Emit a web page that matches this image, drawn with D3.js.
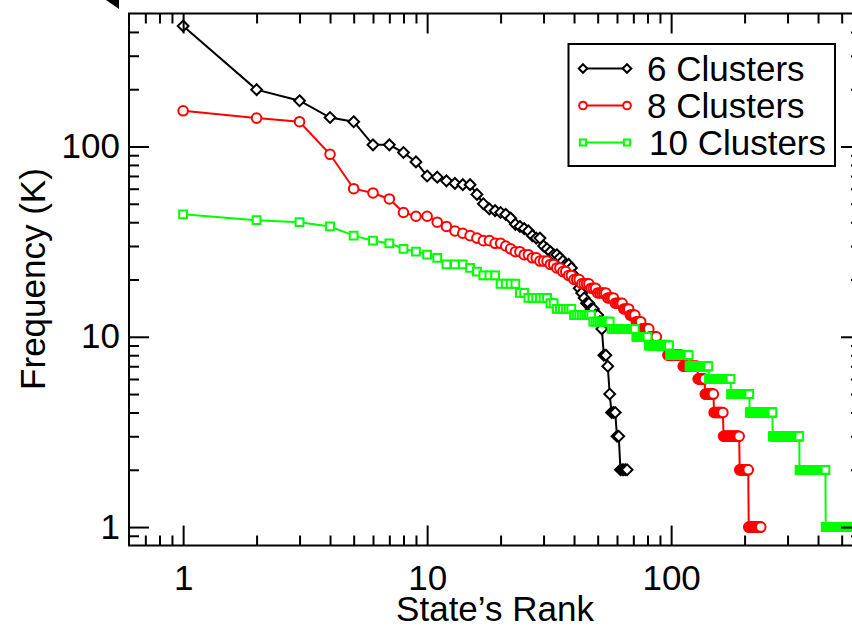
<!DOCTYPE html>
<html>
<head>
<meta charset="utf-8">
<script src="https://cdn.jsdelivr.net/npm/d3@7"></script>
<style>
  body { margin: 0; background: #fff; }
  text { font-family: "Liberation Sans", Arial, Helvetica, sans-serif; }
</style>
</head>
<body>
<svg id="chart" width="852" height="627"></svg>
<script>
// Frequency (K) of each state, in rank order (rank = index + 1)
var freq6 = [430, 199, 174, 142, 135, 102, 102, 93, 83, 70,
             69, 66, 64, 63, 63, 56, 50, 47, 46, 45,
             44, 42, 39, 38, 37, 36, 34, 33, 33, 30,
             29, 28, 27, 27, 26, 25, 24, 24, 23, 21,
             20, 18, 17, 16, 15, 15, 14, 14, 13, 13,
             12, 11, 8, 8, 7, 5, 4, 4, 4, 3,
             3, 2, 2, 2, 2, 2];

var freq8Head = [154, 141, 135, 91, 60, 57, 53, 45, 43, 43,
                 40, 38, 36, 35, 34, 33, 32, 32, 31, 31,
                 30, 29, 28, 28, 27, 27, 26, 26, 25, 25,
                 25, 24, 24, 23, 23, 22, 22, 21, 21];
// tail as [value, number of ranks with that value]
var freq8Tail = [[20, 3], [19, 4], [18, 3], [17, 5], [16, 4], [15, 5], [14, 4],
                 [13, 4], [12, 4], [11, 6], [10, 6], [9, 9], [8, 15], [7, 17],
                 [6, 9], [5, 12], [4, 14], [3, 27], [2, 17], [1, 26]];

var freq10Head = [44, 41, 40, 38, 34, 32, 31, 29, 28, 27,
                  26, 24, 24, 24, 23, 22, 21, 21, 21, 19,
                  19, 19, 19, 17, 17];
var freq10Tail = [[16, 6], [15, 2], [14, 6], [13, 8], [12, 9], [11, 15], [10, 9],
                  [9, 18], [8, 20], [7, 24], [6, 33], [5, 34], [4, 51], [3, 75],
                  [2, 94], [1, 171]];

var seriesNames = ['6 Clusters', '8 Clusters', '10 Clusters'];
var seriesColors = ['#000000', '#ff0000', '#00ff00'];
var seriesShapes = ['diamond', 'circle', 'square'];

var xMajor = [1, 10, 100];
var xMinor = [0.7, 0.8, 0.9, 2, 3, 4, 5, 6, 7, 8, 9, 20, 30, 40, 50, 60, 70, 80, 90, 200, 300, 400, 500];
var yMajor = [1, 10, 100];
var yMinor = [0.9, 2, 3, 4, 5, 6, 7, 8, 9, 20, 30, 40, 50, 60, 70, 80, 90, 200, 300, 400];

function expand(head, runs) {
  var out = head.slice();
  runs.forEach(function(r) {
    for (var i = 0; i < r[1]; i++) out.push(r[0]);
  });
  return out;
}

function toPoints(freqs) {
  return freqs.map(function(v, i) { return {rank: i + 1, freq: v}; });
}

function markerPath(shape, s) {
  if (shape == 'diamond') return 'M0,' + (-s) + 'L' + s + ',0L0,' + s + 'L' + (-s) + ',0Z';
  if (shape == 'square') return 'M' + (-s) + ',' + (-s) + 'H' + s + 'V' + s + 'H' + (-s) + 'Z';
  return 'M' + s + ',0A' + s + ',' + s + ' 0 1,1 ' + (-s) + ',0A' + s + ',' + s + ' 0 1,1 ' + s + ',0Z';
}
var markerSize = {diamond: 5.4, circle: 4.8, square: 3.9};

var plotL = 129, plotT = 13.5, plotR = 861, plotB = 545.5;
var x = d3.scaleLog().domain([0.6, 600]).range([plotL, plotR]);
var y = d3.scaleLog().domain([0.8, 500]).range([plotB, plotT]);

var svg = d3.select('#chart');
var fontSize = 35;

// odd little mark in the top-left corner
svg.append('polygon')
  .attr('points', '106,0 119,0 119,9')
  .attr('fill', '#000');

svg.append('clipPath').attr('id', 'plotclip')
  .append('rect').attr('x', plotL).attr('y', plotT)
  .attr('width', plotR - plotL).attr('height', plotB - plotT);

var allSeries = [
  toPoints(freq6),
  toPoints(expand(freq8Head, freq8Tail)),
  toPoints(expand(freq10Head, freq10Tail))
];

var line = d3.line().x(d => x(d.rank)).y(d => y(d.freq));
var plot = svg.append('g').attr('clip-path', 'url(#plotclip)');

allSeries.forEach(function(pts, k) {
  var g = plot.append('g');
  g.append('path').datum(pts)
    .attr('d', line)
    .attr('fill', 'none')
    .attr('stroke', seriesColors[k]).attr('stroke-width', 2);
  g.selectAll('path.mk').data(pts).enter().append('path')
    .attr('class', 'mk')
    .attr('d', markerPath(seriesShapes[k], markerSize[seriesShapes[k]]))
    .attr('transform', d => 'translate(' + x(d.rank) + ',' + y(d.freq) + ')')
    .attr('fill', '#fff')
    .attr('stroke', seriesColors[k]).attr('stroke-width', 2);
});

// axes, ticks all pointing inward
function styleAxis(g) {
  g.select('.domain').remove();
  g.selectAll('line').attr('stroke', '#000').attr('stroke-width', 2);
  g.attr('font-size', fontSize).attr('font-family', '"Liberation Sans", Arial, sans-serif');
  g.selectAll('text').attr('fill', '#000');
}

svg.append('g').attr('transform', 'translate(0,' + plotB + ')')
  .call(d3.axisBottom(x).tickValues(xMajor).tickSize(-20).tickSizeOuter(0).tickPadding(20).tickFormat(d3.format('d')))
  .call(styleAxis);
svg.append('g').attr('transform', 'translate(0,' + plotB + ')')
  .call(d3.axisBottom(x).tickValues(xMinor).tickSize(-10).tickSizeOuter(0).tickFormat(''))
  .call(styleAxis);
svg.append('g').attr('transform', 'translate(0,' + plotT + ')')
  .call(d3.axisTop(x).tickValues(xMajor).tickSize(-20).tickSizeOuter(0).tickFormat(''))
  .call(styleAxis);
svg.append('g').attr('transform', 'translate(0,' + plotT + ')')
  .call(d3.axisTop(x).tickValues(xMinor).tickSize(-10).tickSizeOuter(0).tickFormat(''))
  .call(styleAxis);

svg.append('g').attr('transform', 'translate(' + plotL + ',0)')
  .call(d3.axisLeft(y).tickValues(yMajor).tickSize(-20).tickSizeOuter(0).tickPadding(9).tickFormat(d3.format('d')))
  .call(styleAxis);
svg.append('g').attr('transform', 'translate(' + plotL + ',0)')
  .call(d3.axisLeft(y).tickValues(yMinor).tickSize(-10).tickSizeOuter(0).tickFormat(''))
  .call(styleAxis);
svg.append('g').attr('transform', 'translate(' + plotR + ',0)')
  .call(d3.axisRight(y).tickValues(yMajor).tickSize(-20).tickSizeOuter(0).tickFormat(''))
  .call(styleAxis);
svg.append('g').attr('transform', 'translate(' + plotR + ',0)')
  .call(d3.axisRight(y).tickValues(yMinor).tickSize(-10).tickSizeOuter(0).tickFormat(''))
  .call(styleAxis);

svg.append('rect')
  .attr('x', plotL).attr('y', plotT)
  .attr('width', plotR - plotL).attr('height', plotB - plotT)
  .attr('fill', 'none').attr('stroke', '#000').attr('stroke-width', 2);

// axis titles
svg.append('text')
  .attr('x', 495).attr('y', 621)
  .attr('text-anchor', 'middle').attr('font-size', fontSize)
  .text('State\u2019s Rank');
svg.append('text')
  .attr('transform', 'translate(45,279) rotate(-90)')
  .attr('text-anchor', 'middle').attr('font-size', fontSize)
  .text('Frequency (K)');

// legend
var legend = svg.append('g');
legend.append('rect')
  .attr('x', 568.5).attr('y', 44).attr('width', 266.5).attr('height', 122)
  .attr('fill', '#fff').attr('stroke', '#000').attr('stroke-width', 2);
seriesNames.forEach(function(name, k) {
  var ly = 68.5 + k * 37;
  var row = legend.append('g');
  row.append('line')
    .attr('x1', 583).attr('x2', 627).attr('y1', ly).attr('y2', ly)
    .attr('stroke', seriesColors[k]).attr('stroke-width', 2);
  [583, 627].forEach(function(lx) {
    row.append('path')
      .attr('d', markerPath(seriesShapes[k], markerSize[seriesShapes[k]] * 0.8))
      .attr('transform', 'translate(' + lx + ',' + ly + ')')
      .attr('fill', '#fff')
      .attr('stroke', seriesColors[k]).attr('stroke-width', 2);
  });
  row.append('text')
    .attr('x', k == 2 ? 649 : 647).attr('y', ly + 12)
    .attr('font-size', fontSize)
    .text(name);
});
</script>
</body>
</html>
